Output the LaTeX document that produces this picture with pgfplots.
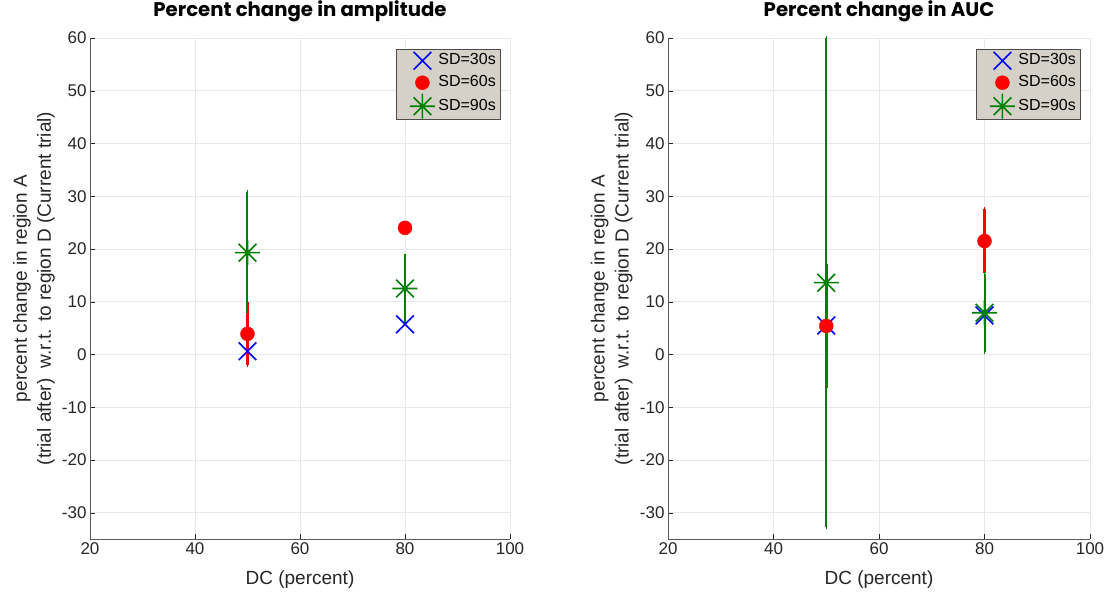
\documentclass[border=0pt]{standalone}
\usepackage{fontspec}
\setmainfont{Liberation Sans}
\newfontfamily\titlefont{Poppins}
\usepackage{pgfplots}
\pgfplotsset{compat=1.18}
\definecolor{mblue}{rgb}{0,0,1}
\definecolor{mred}{rgb}{1,0,0}
\definecolor{mgreen}{rgb}{0,0.5,0}
\definecolor{legbg}{RGB}{214,209,200}
\definecolor{axcol}{RGB}{38,38,38}
% matlab-like '*' marker (four strokes)
\pgfdeclareplotmark{mstar}{%
  \pgfpathmoveto{\pgfqpoint{-\pgfplotmarksize}{0pt}}%
  \pgfpathlineto{\pgfqpoint{\pgfplotmarksize}{0pt}}%
  \pgfpathmoveto{\pgfqpoint{0pt}{-\pgfplotmarksize}}%
  \pgfpathlineto{\pgfqpoint{0pt}{\pgfplotmarksize}}%
  \pgfpathmoveto{\pgfqpoint{-.7071\pgfplotmarksize}{-.7071\pgfplotmarksize}}%
  \pgfpathlineto{\pgfqpoint{.7071\pgfplotmarksize}{.7071\pgfplotmarksize}}%
  \pgfpathmoveto{\pgfqpoint{-.7071\pgfplotmarksize}{.7071\pgfplotmarksize}}%
  \pgfpathlineto{\pgfqpoint{.7071\pgfplotmarksize}{-.7071\pgfplotmarksize}}%
  \pgfusepathqstroke}
\pgfplotsset{
  matax/.style={
    anchor=south west, scale only axis, height=501pt,
    xmin=20, xmax=100, ymin=-35, ymax=60,
    xtick={20,40,...,100}, ytick={-30,-20,...,60},
    axis lines*=left, axis line style={-, draw=gray!70!black},
    grid=major, grid style={gray!18, line width=0.6pt},
    tick align=inside, major tick length=5pt, tick style={axcol},
    tick label style={font=\fontsize{17}{20}\selectfont, text=axcol},
    /pgf/number format/assume math mode=true,
    label style={font=\fontsize{19}{24}\selectfont, text=axcol},
    xlabel={DC (percent)},
    xlabel style={at={(axis description cs:0.5,0)}, anchor=center, yshift=-41pt},
    ylabel={percent change in region A\\(trial after)\ \ w.r.t. to region D (Current trial)},
    ylabel style={at={(axis description cs:-0.1333,0.5)}, anchor=center, align=center},
    title style={font=\titlefont\bfseries\fontsize{19.7}{24}\selectfont, at={(axis description cs:0.5,1)}, anchor=center, yshift=21pt},
    legend style={at={(1,1)}, anchor=north east, xshift=-10pt, yshift=-11pt,
      fill=legbg, draw=gray!60!black, font=\fontsize{16}{18}\selectfont,
      inner xsep=2pt, inner ysep=0.5pt, row sep=0pt, column sep=0pt,
      nodes={text height=12pt, text depth=4pt, inner ysep=3pt},
      legend cell align=left},
    legend image code/.code={\path[draw=none, fill=none] (0pt,-6pt) rectangle (38pt,6pt); \draw[##1] plot coordinates {(24pt,0pt)};},
    clip=false,
  },
  s30/.style={only marks, mark=x, mark size=12.5pt, draw=mblue, mark options={line width=1.6pt, draw=mblue}},
  s60/.style={only marks, mark=*, mark size=7pt, color=mred, mark options={fill=mred, draw=mred},
    error bars/.cd, y dir=both, y explicit, error bar style={line width=3pt, mred},
    error mark=-, error mark options={mark size=2pt, line width=1.5pt, mred}},
  s90/.style={only marks, mark=mstar, mark size=12.5pt, color=mgreen, mark options={line width=1.6pt, draw=mgreen},
    error bars/.cd, y dir=both, y explicit, error bar style={line width=2pt, mgreen},
    error mark=-, error mark options={mark size=2pt, line width=1.5pt, mgreen}},
}
\begin{document}
\begin{tikzpicture}[x=1pt,y=1pt]
\useasboundingbox (0pt,0pt) rectangle (1117pt,599pt);

\begin{axis}[matax, at={(90pt,60pt)}, width=420pt, title={Percent change in amplitude}]
  \addplot+[s30] coordinates {(50,0.6) (80,5.7)};
  \addlegendentry{SD=30s}
  \addplot+[s60] coordinates {(50,3.9) +- (0,6.0) (80,24.0) +- (0,0)};
  \addlegendentry{SD=60s}
  \addplot+[s90] coordinates {(50,19.3) +- (0,11.5) (80,12.5) +- (0,6.2)};
  \addlegendentry{SD=90s}
\end{axis}

\begin{axis}[matax, at={(668pt,60pt)}, width=422pt, title={Percent change in AUC}]
  \addplot+[s30] coordinates {(50,5.5) (80,7.4)};
  \addlegendentry{SD=30s}
  \addplot+[s60] coordinates {(50,5.4) +- (0,11.8) (80,21.5) +- (0,6.0)};
  \addlegendentry{SD=60s}
  \addplot+[s90] coordinates {(50,13.6) +- (0,46.4) (80,7.9) +- (0,7.4)};
  \addlegendentry{SD=90s}
\end{axis}
\end{tikzpicture}
\end{document}
